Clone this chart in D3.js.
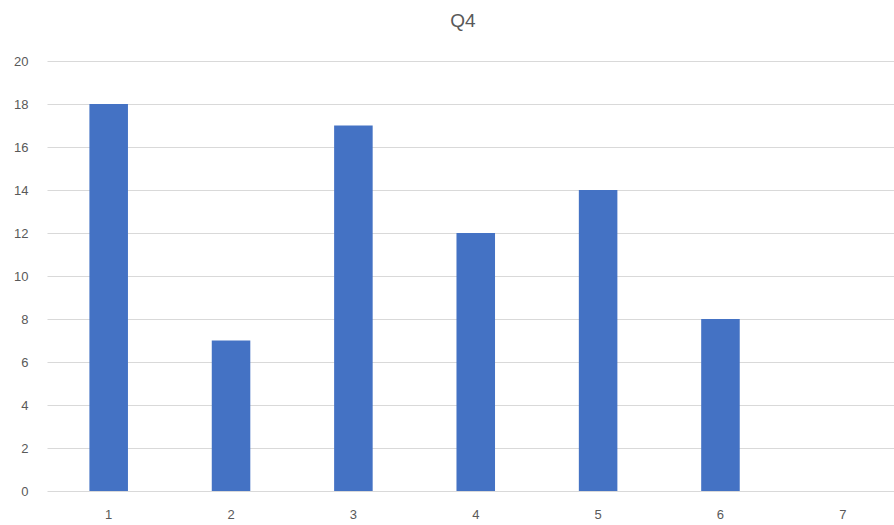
<!DOCTYPE html>
<html>
<head>
<meta charset="utf-8">
<script src="https://cdn.jsdelivr.net/npm/d3@7"></script>
<style>
  html, body { margin: 0; padding: 0; background: #fff; overflow: hidden; }
  svg { display: block; }
  text { font-family: "Liberation Sans Narrow", "Liberation Sans", Arial, sans-serif; fill: #595959; }
</style>
</head>
<body>
<svg id="chart" width="894" height="525"></svg>
<script>
const title = "Q4";
const categories = ["1", "2", "3", "4", "5", "6", "7"];
const values = [18, 7, 17, 12, 14, 8, 0];
const yTicks = [0, 2, 4, 6, 8, 10, 12, 14, 16, 18, 20];

const svg = d3.select("#chart");
const mLeft = 47.5, mRight = 904, mTop = 61, mBottom = 491;

const x = d3.scaleBand().domain(categories).range([mLeft, mRight])
  .paddingInner(0.685).paddingOuter(0.3425);
const y = d3.scaleLinear().domain([0, 20]).range([mBottom, mTop]);

// gridlines
svg.append("g").selectAll("line").data(yTicks).join("line")
  .attr("x1", mLeft).attr("x2", mRight)
  .attr("y1", d => Math.round(y(d)) + 0.5).attr("y2", d => Math.round(y(d)) + 0.5)
  .attr("stroke", "#d9d9d9").attr("stroke-width", 1);

// y axis labels
const yAxis = d3.axisLeft(y).tickValues(yTicks).tickSize(0).tickPadding(0);
const gy = svg.append("g").attr("transform", `translate(${mLeft - 19},0)`).call(yAxis);
gy.select(".domain").remove();
gy.selectAll("text").attr("font-size", 13).style("fill", "#595959")
  .style("font-family", '"Liberation Sans Narrow", "Liberation Sans", Arial, sans-serif');

// bars
svg.append("g").selectAll("rect").data(values).join("rect")
  .attr("x", (d, i) => x(categories[i]))
  .attr("width", x.bandwidth())
  .attr("y", d => y(d))
  .attr("height", d => y(0) - y(d))
  .attr("fill", "#4472C4");

// x axis labels
const xAxis = d3.axisBottom(x).tickSize(0).tickPadding(0);
const gx = svg.append("g").attr("transform", `translate(0,${mBottom + 19})`).call(xAxis);
gx.select(".domain").remove();
gx.selectAll("text").attr("font-size", 13).style("fill", "#595959")
  .style("font-family", '"Liberation Sans Narrow", "Liberation Sans", Arial, sans-serif');

// title
svg.append("text").attr("x", 463).attr("y", 27).attr("text-anchor", "middle")
  .attr("font-size", 19).text(title);
</script>
</body>
</html>
